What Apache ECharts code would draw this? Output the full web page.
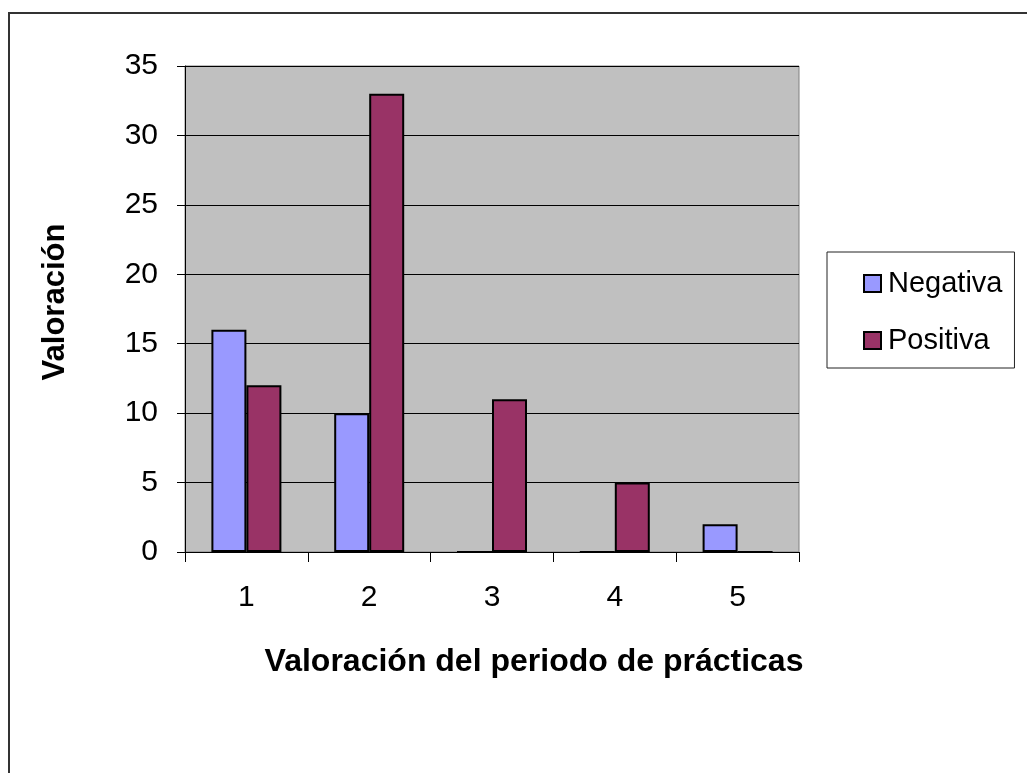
<!DOCTYPE html>
<html>
<head>
<meta charset="utf-8">
<script src="https://cdn.jsdelivr.net/npm/echarts@6/dist/echarts.min.js"></script>
<style>
html,body{margin:0;padding:0;background:#fff;}
#c{width:1027px;height:773px;}
</style>
</head>
<body>
<div id="c"></div>
<script>
const categories = ['1', '2', '3', '4', '5'];
const negativa = [16, 10, 0, 0, 2];
const positiva = [12, 33, 11, 5, 0];
const seriesNames = ['Negativa', 'Positiva'];
const yTitle = 'Valoración';
const xTitle = 'Valoración del periodo de prácticas';

const FONT = 'Liberation Sans, Arial, sans-serif';
const chart = echarts.init(document.getElementById('c'), null, {renderer: 'canvas'});
chart.setOption({
  animation: false,
  backgroundColor: '#ffffff',
  graphic: [
    {type: 'rect', shape: {x: 9, y: 13, width: 1100, height: 900},
     style: {fill: 'none', stroke: '#333', lineWidth: 2}, silent: true, z: -10},
    {type: 'text', x: 534, y: 662,
     style: {text: xTitle, font: 'bold 32px ' + FONT, fill: '#000', align: 'center', verticalAlign: 'middle'}},
    {type: 'text', x: 55, y: 302, rotation: Math.PI / 2,
     style: {text: yTitle, font: 'bold 31px ' + FONT, fill: '#000', align: 'center', verticalAlign: 'middle'}}
  ],
  grid: {left: 185, top: 66, width: 614, height: 486, show: true,
         backgroundColor: '#C0C0C0', borderColor: '#808080', borderWidth: 1},
  legend: {
    orient: 'vertical', left: 827, top: 252,
    data: seriesNames,
    icon: 'rect', itemWidth: 17, itemHeight: 17, itemGap: 28,
    padding: [17, 12, 13, 36],
    borderColor: '#222', borderWidth: 1, backgroundColor: '#fff',
    textStyle: {fontFamily: FONT, fontSize: 29, color: '#000', padding: [0, 0, 0, 2]}
  },
  xAxis: {
    type: 'category', data: categories,
    axisLine: {lineStyle: {color: '#000', width: 1}},
    axisTick: {show: true, length: 10, lineStyle: {color: '#000'}},
    axisLabel: {fontFamily: FONT, fontSize: 30, color: '#000', margin: 31},
    splitLine: {show: false}
  },
  yAxis: {
    type: 'value', min: 0, max: 35, interval: 5,
    axisLine: {show: true, lineStyle: {color: '#000', width: 1}},
    axisTick: {show: true, length: 8, lineStyle: {color: '#000'}},
    axisLabel: {fontFamily: FONT, fontSize: 30, color: '#000', margin: 27},
    splitLine: {show: true, lineStyle: {color: '#000', width: 1}}
  },
  series: [
    {name: seriesNames[0], type: 'bar', data: negativa, barGap: '0%', barCategoryGap: '43%',
     itemStyle: {color: '#9999FF', borderColor: '#000', borderWidth: 2}},
    {name: seriesNames[1], type: 'bar', data: positiva, barGap: '0%', barCategoryGap: '43%',
     itemStyle: {color: '#993366', borderColor: '#000', borderWidth: 2}}
  ]
});
</script>
</body>
</html>
